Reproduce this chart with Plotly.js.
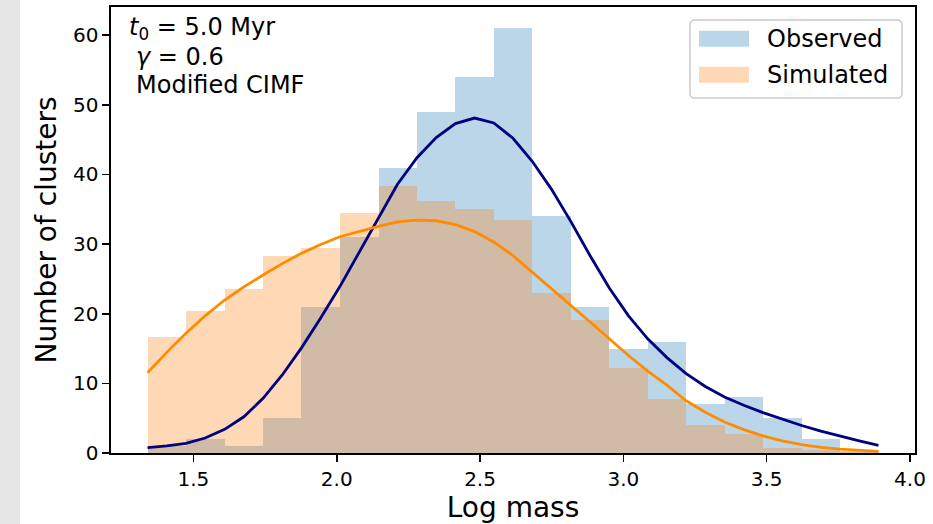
<!DOCTYPE html>
<html>
<head>
<meta charset="utf-8">
<script src="https://cdn.plot.ly/plotly-3.0.1.min.js"></script>
<style>
  html, body { margin: 0; padding: 0; background: #ffffff; }
  #strip { position: absolute; left: 0; top: 0; width: 20px; height: 524px; background: #e6e6e6; }
  #plot { position: absolute; left: 0; top: 0; width: 933px; height: 524px; }
</style>
</head>
<body>
<div id="strip"></div>
<div id="plot"></div>
<script>
// ---- Data ----
// Histogram bin edges (log mass)
var binEdges = [1.340, 1.474, 1.609, 1.743, 1.877, 2.011, 2.146, 2.280, 2.414, 2.548,
                2.683, 2.817, 2.951, 3.085, 3.220, 3.354, 3.488, 3.622, 3.757, 3.891];
// Number of clusters per bin
var observedCounts  = [1, 2, 1, 5, 21, 31, 41, 49, 54, 61, 34, 21, 15, 16, 7, 8, 5, 2, 0.3];
var simulatedCounts = [16.6, 20.4, 23.6, 28.3, 29.4, 34.4, 38.35, 36.2, 35.1, 33.5,
                       23.0, 19.1, 12.25, 7.7, 4.0, 2.78, 0.7, 0.43, 0.2];
// Smooth curves
var curveLogMass = [1.340, 1.407, 1.474, 1.541, 1.609, 1.676, 1.743, 1.810, 1.877, 1.944,
                    2.011, 2.078, 2.145, 2.212, 2.280, 2.347, 2.414, 2.481, 2.548, 2.615,
                    2.682, 2.749, 2.816, 2.883, 2.951, 3.018, 3.085, 3.152, 3.219, 3.286,
                    3.353, 3.420, 3.487, 3.554, 3.622, 3.689, 3.756, 3.823, 3.890];
var observedCurve = [0.76, 1.02, 1.39, 2.15, 3.4, 5.2, 7.85, 11.2, 15.1, 19.4,
                     23.9, 28.8, 33.8, 38.6, 42.4, 45.3, 47.3, 48.1, 47.4, 45.2,
                     41.9, 37.9, 33.3, 28.4, 23.7, 19.7, 16.4, 13.7, 11.4, 9.55,
                     8.05, 6.85, 5.8, 4.85, 3.95, 3.15, 2.4, 1.75, 1.1];
var simulatedCurve = [11.53, 14.45, 17.19, 19.7, 21.97, 23.85, 25.56, 27.2, 28.68, 29.95,
                      31.06, 31.85, 32.55, 33.2, 33.45, 33.35, 32.8, 31.8, 30.3, 28.35,
                      26.0, 23.6, 21.2, 18.85, 16.4, 14.0, 11.75, 9.75, 7.5, 5.85,
                      4.45, 3.35, 2.45, 1.75, 1.2, 0.82, 0.55, 0.37, 0.24];
var xTickVals = [1.5, 2.0, 2.5, 3.0, 3.5, 4.0];
var xTickText = ['1.5', '2.0', '2.5', '3.0', '3.5', '4.0'];
var yTickVals = [0, 10, 20, 30, 40, 50, 60];
var yTickText = ['0', '10', '20', '30', '40', '50', '60'];
var seriesNames = ['Observed', 'Simulated'];
var infoLines = ['<i>t</i><sub>0</sub> = 5.0 Myr', '<i>γ</i> = 0.6', 'Modified CIMF'];

// ---- derived bar geometry ----
var centers = [], widths = [];
for (var i = 0; i < binEdges.length - 1; i++) {
  centers.push((binEdges[i] + binEdges[i + 1]) / 2);
  widths.push(binEdges[i + 1] - binEdges[i]);
}

var blueFill = 'rgba(31,119,180,0.3)';
var orangeFill = 'rgba(255,127,14,0.3)';

var traces = [
  { type: 'bar', x: centers, y: observedCounts, width: widths, name: seriesNames[0],
    marker: { color: blueFill, line: { width: 0 } }, showlegend: false, hoverinfo: 'x+y' },
  { type: 'bar', x: centers, y: simulatedCounts, width: widths, name: seriesNames[1],
    marker: { color: orangeFill, line: { width: 0 } }, showlegend: false, hoverinfo: 'x+y' },
  { type: 'scatter', mode: 'lines', x: curveLogMass, y: observedCurve,
    line: { color: '#000080', width: 2.8 }, showlegend: false },
  { type: 'scatter', mode: 'lines', x: curveLogMass, y: simulatedCurve,
    line: { color: '#ff8c00', width: 2.8 }, showlegend: false }
];

// pixel -> paper helpers for plot area (l=111, r=915, t=7, b=453)
var L = 111, R = 915, T = 7, B = 453;
function px(xp) { return (xp - L) / (R - L); }
function py(yp) { return (B - yp) / (B - T); }

// Legend frame (rounded rectangle)
function roundedRect(x0, y0, x1, y1, r) {
  var rx = r / (R - L), ry = r / (B - T);
  var X0 = px(x0), X1 = px(x1), Y0 = py(y0), Y1 = py(y1); // Y0 top, Y1 bottom
  return 'M' + (X0 + rx) + ',' + Y0 +
    ' L' + (X1 - rx) + ',' + Y0 + ' Q' + X1 + ',' + Y0 + ' ' + X1 + ',' + (Y0 - ry) +
    ' L' + X1 + ',' + (Y1 + ry) + ' Q' + X1 + ',' + Y1 + ' ' + (X1 - rx) + ',' + Y1 +
    ' L' + (X0 + rx) + ',' + Y1 + ' Q' + X0 + ',' + Y1 + ' ' + X0 + ',' + (Y1 + ry) +
    ' L' + X0 + ',' + (Y0 - ry) + ' Q' + X0 + ',' + Y0 + ' ' + (X0 + rx) + ',' + Y0 + ' Z';
}

var shapes = [
  { type: 'path', xref: 'paper', yref: 'paper', path: roundedRect(690, 20, 902, 98, 5),
    fillcolor: 'rgba(255,255,255,0.8)', line: { color: '#cccccc', width: 1.5 } },
  { type: 'rect', xref: 'paper', yref: 'paper', x0: px(699), x1: px(749), y0: py(46.7), y1: py(30.7),
    fillcolor: blueFill, line: { width: 0 } },
  { type: 'rect', xref: 'paper', yref: 'paper', x0: px(699), x1: px(749), y0: py(82.7), y1: py(66.7),
    fillcolor: orangeFill, line: { width: 0 } }
];

var font24 = { family: 'DejaVu Sans', size: 24, color: '#000000' };
var annotations = [
  { xref: 'paper', yref: 'paper', x: px(127), y: py(28), xanchor: 'left', yanchor: 'middle',
    text: infoLines[0], showarrow: false, font: font24 },
  { xref: 'paper', yref: 'paper', x: px(134), y: py(56.5), xanchor: 'left', yanchor: 'middle',
    text: infoLines[1], showarrow: false, font: font24 },
  { xref: 'paper', yref: 'paper', x: px(134), y: py(84.7), xanchor: 'left', yanchor: 'middle',
    text: infoLines[2], showarrow: false, font: font24 },
  { xref: 'paper', yref: 'paper', x: px(765), y: py(38.7), xanchor: 'left', yanchor: 'middle',
    text: seriesNames[0], showarrow: false, font: font24 },
  { xref: 'paper', yref: 'paper', x: px(765), y: py(74.5), xanchor: 'left', yanchor: 'middle',
    text: seriesNames[1], showarrow: false, font: font24 }
];

var layout = {
  width: 933, height: 524,
  margin: { l: L, r: 933 - R, t: T, b: 524 - B, pad: 0 },
  paper_bgcolor: 'rgba(0,0,0,0)',
  plot_bgcolor: '#ffffff',
  barmode: 'overlay',
  bargap: 0,
  showlegend: false,
  font: { family: 'DejaVu Sans', color: '#000000' },
  xaxis: {
    range: [1.2125, 4.0175], autorange: false,
    tickmode: 'array', tickvals: xTickVals, ticktext: xTickText,
    ticks: 'outside', ticklen: 7, tickwidth: 1.6, tickcolor: '#000',
    showline: true, linecolor: '#000', linewidth: 1.6, mirror: true,
    showgrid: false, zeroline: false,
    tickfont: { family: 'DejaVu Sans', size: 20, color: '#000' },
    title: { text: 'Log mass', font: { family: 'DejaVu Sans', size: 28, color: '#000' }, standoff: 6 }
  },
  yaxis: {
    range: [0, 64.05], autorange: false,
    tickmode: 'array', tickvals: yTickVals, ticktext: yTickText,
    ticks: 'outside', ticklen: 7, tickwidth: 1.6, tickcolor: '#000',
    showline: true, linecolor: '#000', linewidth: 1.6, mirror: true,
    showgrid: false, zeroline: false,
    tickfont: { family: 'DejaVu Sans', size: 20, color: '#000' },
    title: { text: 'Number of clusters', font: { family: 'DejaVu Sans', size: 28, color: '#000' }, standoff: 8 }
  },
  shapes: shapes,
  annotations: annotations
};

Plotly.newPlot('plot', traces, layout, { displayModeBar: false, staticPlot: true });
</script>
</body>
</html>
